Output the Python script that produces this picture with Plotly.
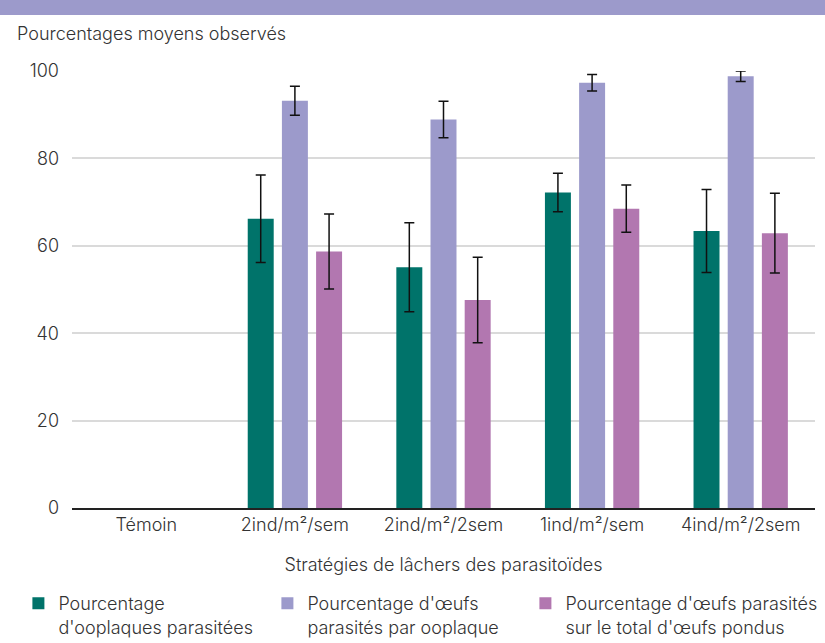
import plotly.graph_objects as go

categories = ["Témoin", "2ind/m²/sem", "2ind/m²/2sem", "1ind/m²/sem", "4ind/m²/2sem"]

series_names = [
    "Pourcentage<br>d'ooplaques parasitées",
    "Pourcentage d'œufs<br>parasités par ooplaque",
    "Pourcentage d'œufs parasités<br>sur le total d'œufs pondus",
]
series_colors = ["#00736A", "#9C9ACB", "#B277B0"]

ooplaques = [None, 66.2, 55.1, 72.2, 63.4]
ooplaques_err = [None, 10.0, 10.2, 4.4, 9.5]

oeufs_ooplaque = [None, 93.2, 88.9, 97.3, 98.8]
oeufs_ooplaque_err = [None, 3.3, 4.2, 1.9, 1.2]

oeufs_total = [None, 58.7, 47.6, 68.5, 62.9]
oeufs_total_err = [None, 8.6, 9.8, 5.4, 9.1]

y_ticks = [0, 20, 40, 60, 80, 100]

values = [ooplaques, oeufs_ooplaque, oeufs_total]
errors = [ooplaques_err, oeufs_ooplaque_err, oeufs_total_err]

FONT = "Inter"
TXT = "#333333"
W, H = 825, 643
ML, MR, MT, MB = 72, 10, 71, 135
PW, PH = W - ML - MR, H - MT - MB

legend_ids = ["legend", "legend2", "legend3"]
legend_text_x = [58, 307, 565]

fig = go.Figure()
for name, color, v, e, lid in zip(series_names, series_colors, values, errors, legend_ids):
    fig.add_trace(go.Bar(
        x=categories, y=v, name=name, legend=lid,
        marker=dict(color=color, line=dict(width=0)),
        error_y=dict(type="data", array=e, visible=True, color="#111111",
                     thickness=1.5, width=5),
    ))

legend_font = dict(family=FONT, size=18, color=TXT, weight=300)
legends = {}
for lid, tx in zip(legend_ids, legend_text_x):
    legends[lid] = dict(
        orientation="v", x=(tx - 39.6 - ML) / PW, y=-(585 - (MT + PH)) / PH,
        xanchor="left", yanchor="top", valign="top",
        font=legend_font, itemclick=False, bgcolor="rgba(0,0,0,0)",
    )

fig.update_layout(
    width=W, height=H,
    paper_bgcolor="white", plot_bgcolor="white",
    margin=dict(l=ML, r=MR, t=MT, b=MB, autoexpand=False),
    barmode="group", bargap=0.31, bargroupgap=0.24,
    font=dict(family=FONT, size=18, color=TXT, weight=300),
    showlegend=True,
    xaxis=dict(
        showgrid=False, showline=True, linecolor="#222222", linewidth=1.5,
        ticks="", tickfont=dict(size=18),
        title=dict(text="Stratégies de lâchers des parasitoïdes",
                   font=dict(size=18), standoff=24),
    ),
    yaxis=dict(
        range=[0, 100], tickvals=y_ticks, showgrid=True, gridcolor="#DADADA",
        gridwidth=1.5, zeroline=False, showline=False, ticks="",
        tickfont=dict(size=18), ticklabelstandoff=12,
    ),
    shapes=[dict(type="rect", xref="paper", yref="paper",
                 x0=-1, x1=2, y0=1 + 56 / PH, y1=1 + 80 / PH,
                 fillcolor="#9C9ACB", line=dict(width=0), layer="above")],
    annotations=[dict(text="Pourcentages moyens observés", xref="paper", yref="paper",
                      x=-57 / PW, y=1 + 38 / PH, xanchor="left",
                      yanchor="middle", showarrow=False,
                      font=dict(family=FONT, size=18, color=TXT, weight=300))],
    **legends,
)

fig.write_html("out.html", post_script="document.body.style.margin='0';",
               config={"displayModeBar": False})
